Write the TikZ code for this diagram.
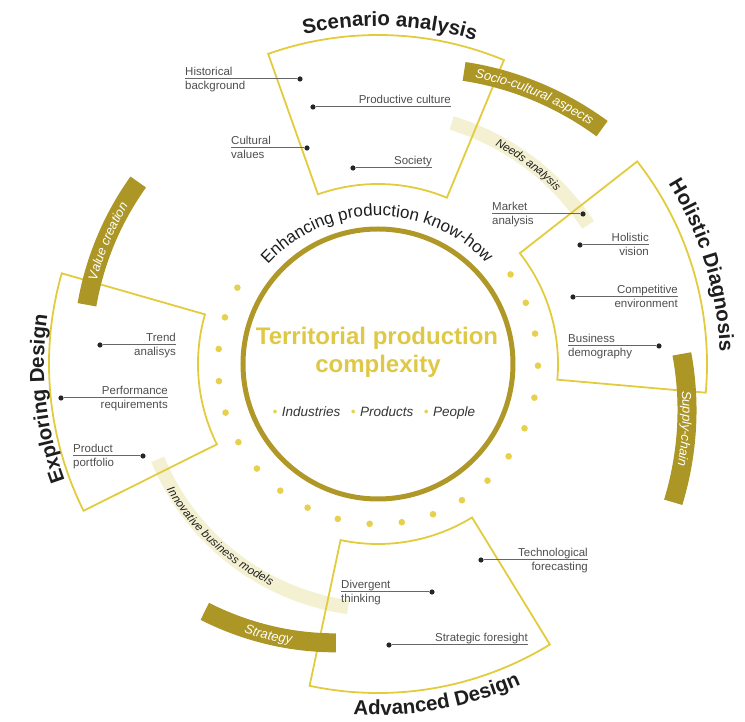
\documentclass[tikz,border=0pt]{standalone}
\usepackage{fontspec}
\setmainfont{Liberation Sans}
\usetikzlibrary{decorations.text}

\definecolor{ringGold}{RGB}{176,152,40}
\definecolor{barOlive}{RGB}{172,150,38}
\definecolor{sectorYellow}{RGB}{226,204,62}
\definecolor{dotYellow}{RGB}{230,208,78}
\definecolor{paleBand}{RGB}{244,240,210}
\definecolor{coreYellow}{RGB}{223,200,70}
\definecolor{itemGray}{RGB}{78,78,78}
\definecolor{titleInk}{RGB}{30,30,30}

\newcommand\titlefont{\bfseries\fontsize{20.5}{22}\selectfont\color{titleInk}}
\newcommand\knowfont{\fontsize{17}{18}\selectfont\color{titleInk}}
\newcommand\barfont{\itshape\fontsize{13}{14}\selectfont\color{white}}
\newcommand\bandfont{\itshape\fontsize{11.5}{12}\selectfont\color{titleInk}}

\tikzset{
  sector/.style={draw=sectorYellow, line width=1.8pt, line join=miter},
  darkbar/.style={draw=barOlive, line width=19pt},
  paleband/.style={draw=paleBand, line width=14pt},
  ringdot/.style={fill=dotYellow},
  coreRing/.style={circle, draw=ringGold, line width=5pt, minimum size=270pt, inner sep=0pt},
  itemdot/.style={circle, fill=black!85, inner sep=0pt, minimum size=5.2pt},
  itemline/.style={draw=black!60, line width=1pt},
  itemtxt/.style={text=itemGray, font=\fontsize{11.5}{13}\selectfont, inner sep=0pt},
}

\begin{document}
\begin{tikzpicture}[x=1pt,y=1pt]
\useasboundingbox (-378,-358) rectangle (367,364);

% pale bands between the sectors
\draw[paleband] (73:252) arc[start angle=73, end angle=33.5, radius=252];
\path[decorate, decoration={text along path, text align=center, raise=-3.8pt,
  text={|\bandfont|Needs analysis}}] (88:252) arc[start angle=88, end angle=18, radius=252];
\draw[paleband] plot[domain=203.4:263, samples=40, variable=\t] (\t:{240+5*(\t-203.4)/59.6});
\path[decorate, decoration={text along path, text align=center, raise=-4pt,
  text={|\bandfont|Innovative business models}}] (197:242) arc[start angle=197, end angle=258, radius=242];

% the four sectors
\foreach \a/\b in {67.5/109.5, -5/38, 164/206.5, 258/301.5}
{%
	\draw[sector] (\a:180) -- (\a:329) arc[start angle=\a, end angle=\b, radius=329] -- (\b:180) arc[start angle=\b, end angle=\a, radius=180] -- cycle;
}%

% dark bars
\draw[darkbar, postaction={decorate, decoration={text along path, text align=center, raise=-4.5pt,
  text={|\barfont|Socio-cultural aspects}}}] plot[domain=73.6:46.4, samples=40, variable=\t] (\t:{305+20*(\t-73.6)/(46.4-73.6)});
\draw[darkbar, postaction={decorate, decoration={text along path, text align=center, raise=-4.5pt,
  text={|\barfont|Supply-chain}}}] plot[domain=1.9:-25.1, samples=40, variable=\t] (\t:{304+22*(\t-1.9)/(-27)});
\draw[darkbar, postaction={decorate, decoration={text along path, text align=center, raise=-4.5pt,
  text={|\barfont|Value creation}}}] plot[domain=168.5:142.8, samples=40, variable=\t] (\t:{297+4*(\t-168.5)/(-25.7)});
\draw[darkbar, postaction={decorate, decoration={text along path, text align=center, raise=-4.5pt,
  text={|\barfont|Strategy}}}] plot[domain=235:261.4, samples=40, variable=\t] (\t:{302-20*(\t-235)/26.4});

% ring of dots
\foreach \i in {0,...,21}
	\fill[ringdot] ({151.5+11.55*\i}:160) circle (3.3pt);

% core
\node[coreRing] (core) at (0,0) {};
\node[text=coreYellow, font=\bfseries\fontsize{24}{28}\selectfont, anchor=base, inner sep=0pt] (coreA) at (-1,19) {Territorial production};
\node[text=coreYellow, font=\bfseries\fontsize{24}{28}\selectfont, anchor=base, inner sep=0pt] (coreB) at (0,-9) {complexity};
\node[text=titleInk!90, font=\itshape\fontsize{13.5}{15}\selectfont, anchor=base, inner sep=0pt] (keys) at (-4,-53)
  {\textcolor{dotYellow}{\textbullet}\,\,Industries\,\,\, \textcolor{dotYellow}{\textbullet}\,\,Products\,\,\, \textcolor{dotYellow}{\textbullet}\,\,People};
\path[decorate, decoration={text along path, text align=center,
  text={|\knowfont|Enhancing production know-how}}] (160:148) arc[start angle=160, end angle=21, radius=148];

% items, text starting at the line end
\foreach \n/\dx/\dy/\ex/\ta/\tb in {hist/-78/285/-193/Historical/background, cult/-71/216/-147/Cultural/values,
  mark/205/150/114/Market/analysis, busi/281/18/190/Business/demography,
  prod/-235/-92/-305/Product/portfolio, dive/54/-228/-37/Divergent/thinking}
{%
	\node[itemdot] (d\n) at (\dx,\dy) {};
	\coordinate (e\n) at (\ex,\dy);
	\draw[itemline] (d\n) -- (e\n);
	\node[itemtxt, anchor=base west, yshift=3pt] (t\n) at (e\n) {\ta};
	\node[itemtxt, anchor=base west, yshift=-11pt] (b\n) at (e\n) {\tb};
}%
% items, text ending at the line end
\foreach \n/\dx/\dy/\ex/\ta/\tb in {pcul/-65/257/73/Productive culture/{}, soci/-25/196/54/Society/{},
  holi/202/119/271/Holistic/vision, comp/195/67/300/Competitive/environment,
  tren/-278/19/-202/Trend/analisys, perf/-317/-34/-210/Performance/requirements,
  tech/103/-196/210/Technological/forecasting, stra/11/-281/150/Strategic foresight/{}}
{%
	\node[itemdot] (d\n) at (\dx,\dy) {};
	\coordinate (e\n) at (\ex,\dy);
	\draw[itemline] (d\n) -- (e\n);
	\node[itemtxt, anchor=base east, yshift=3pt] (t\n) at (e\n) {\ta};
	\node[itemtxt, anchor=base east, yshift=-11pt] (b\n) at (e\n) {\tb};
}%

% titles
\path[decorate, decoration={text along path, text align=center,
  text={|\titlefont|Scenario analysis}}] (128:338) arc[start angle=128, end angle=48, radius=338];
\path[decorate, decoration={text along path, text align=center,
  text={|\titlefont|Holistic Diagnosis}}] (57:342) arc[start angle=57, end angle=-23, radius=342];
\path[decorate, decoration={text along path, text align=center,
  text={|\titlefont|Exploring Design}}] (226:334) arc[start angle=226, end angle=146, radius=334];
\path[decorate, decoration={text along path, text align=center,
  text={|\titlefont|Advanced Design}}] (240:351) arc[start angle=240, end angle=320, radius=351];
\end{tikzpicture}
\end{document}
